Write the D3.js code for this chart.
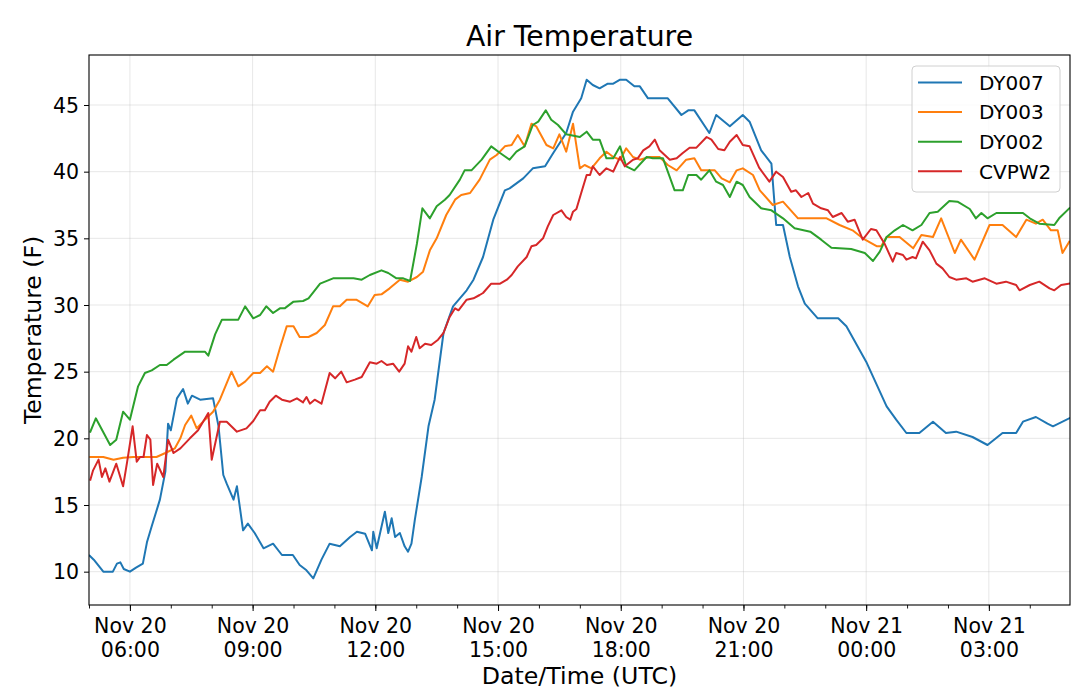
<!DOCTYPE html>
<html>
<head>
<meta charset="utf-8">
<script src="https://cdn.jsdelivr.net/npm/d3@7"></script>
<style>
  html, body { margin: 0; padding: 0; background: #fff; }
  svg { display: block; }
  text { font-family: "DejaVu Sans", sans-serif; fill: #000; }
</style>
</head>
<body>
<svg id="chart" width="1080" height="690"></svg>
<script>
// ---- data (minutes after 2018-11-20 05:00 UTC, temperature in F) ----
const startTime = "2018-11-20T05:00:00Z";
const endTime = "2018-11-21T04:59:00Z";
const seriesNames = ["DY007", "DY003", "DY002", "CVPW2"];
const seriesColors = ["#1f77b4", "#ff7f0e", "#2ca02c", "#d62728"];
const yTickValues = [10, 15, 20, 25, 30, 35, 40, 45];

const dy007Min = [1,7,21,35,41,46,51,60,69,79,85,92,104,112,116,120,129,138,145,151,163,182,190,197,202,212,217,226,233,243,256,270,283,299,309,319,329,341,353,368,383,393,405,415,417,422,427,434,439,444,449,456,463,468,473,478,488,498,507,520,534,554,564,578,593,610,617,637,651,669,681,700,710,722,730,739,749,761,769,779,788,800,808,820,849,869,879,888,910,920,940,959,969,986,1001,1008,1018,1028,1040,1050,1069,1099,1111,1140,1170,1184,1199,1218,1238,1257,1272,1296,1318,1340,1360,1370,1389,1406,1414,1438];
const dy007Temp = [11.2,10.9,10.0,10.0,10.6,10.7,10.2,10.0,10.3,10.6,12.2,13.4,15.4,17.5,21.1,20.6,23.0,23.7,22.6,23.2,22.9,23.0,20.9,17.25,16.6,15.4,16.4,13.1,13.6,12.9,11.75,12.1,11.25,11.25,10.5,10.1,9.5,10.9,12.1,11.9,12.6,13.0,12.85,11.6,13.0,11.75,12.9,14.5,12.9,14.0,12.6,12.9,11.9,11.5,12.1,13.9,17.1,20.9,22.9,27.9,29.9,31.1,31.9,33.6,36.4,38.6,38.75,39.5,40.25,40.4,41.4,42.9,44.5,45.5,46.9,46.5,46.25,46.6,46.6,46.9,46.9,46.4,46.4,45.5,45.5,44.25,44.6,44.6,42.9,44.25,43.4,44.25,43.75,41.6,40.6,36.0,36.0,33.6,31.4,30.1,29.0,29.0,28.4,25.75,22.4,21.4,20.4,20.4,21.25,20.4,20.5,20.1,19.5,20.4,20.4,21.25,21.6,21.1,20.9,21.5];

const dy003Min = [2,21,36,50,65,99,112,126,134,141,150,158,170,182,192,209,219,229,241,251,261,270,280,290,300,309,322,334,346,358,368,378,392,409,419,429,441,456,468,481,490,500,510,524,537,546,559,573,588,598,610,620,629,639,649,656,671,681,690,700,710,720,727,737,749,759,769,779,788,798,808,822,837,849,862,876,888,898,918,928,940,950,959,974,984,1003,1018,1040,1082,1101,1120,1135,1156,1162,1170,1189,1209,1221,1238,1250,1270,1279,1299,1321,1340,1360,1375,1389,1399,1411,1421,1428,1438];
const dy003Temp = [18.6,18.6,18.4,18.55,18.6,18.6,18.9,19.25,20.0,21.0,21.7,20.75,21.4,22.0,22.9,25.0,23.9,24.25,24.9,24.9,25.4,25.0,26.75,28.4,28.4,27.6,27.6,27.9,28.5,29.9,29.9,30.4,30.4,29.9,30.75,30.8,31.25,31.9,31.75,32.1,32.5,34.1,35.0,36.75,37.9,38.25,38.4,39.4,40.9,41.25,41.9,42.0,42.75,41.9,43.6,43.4,42.0,41.75,42.8,41.5,43.6,40.25,40.5,40.25,41.0,41.5,41.1,40.9,41.75,41.1,40.9,41.1,41.1,40.5,40.1,40.9,41.0,40.1,40.1,39.5,39.2,40.1,40.25,39.75,38.6,37.5,37.75,36.5,36.5,36.0,35.6,35.0,34.4,34.4,35.1,35.1,34.25,35.25,35.1,36.5,33.9,34.9,33.4,36.0,36.0,35.1,36.4,36.1,36.4,35.6,35.6,33.9,34.75];

const dy002Min = [2,10,31,40,50,60,72,82,92,104,114,124,141,170,175,185,195,219,229,241,251,260,270,280,287,300,314,322,339,358,388,400,412,429,439,451,461,471,481,489,500,510,522,529,544,551,561,576,590,603,617,627,639,651,659,670,678,688,700,720,730,739,749,759,769,779,788,800,818,827,842,859,871,879,891,898,910,920,930,940,950,959,969,986,1001,1018,1035,1058,1074,1089,1118,1138,1150,1160,1170,1182,1194,1208,1221,1233,1245,1262,1274,1292,1301,1309,1318,1331,1370,1380,1394,1416,1423,1438];
const dy002Temp = [20.5,21.5,19.5,19.9,22.0,21.4,23.9,24.9,25.1,25.5,25.5,25.9,26.5,26.5,26.2,27.8,28.9,28.9,29.9,29.0,29.25,29.9,29.4,29.75,29.75,30.25,30.3,30.5,31.6,32.0,32.0,31.9,32.25,32.6,32.4,32.0,32.0,31.8,34.6,37.25,36.5,37.4,37.9,38.25,39.4,40.1,40.1,40.9,41.9,41.4,40.9,41.5,41.9,43.5,43.75,44.6,43.9,43.5,42.8,42.6,43.0,42.4,42.4,41.0,41.0,41.9,40.4,40.1,41.1,41.0,41.0,38.6,38.6,39.75,39.75,39.4,40.1,39.25,39.0,38.1,39.25,39.0,38.1,37.25,37.1,36.5,35.75,35.5,34.9,34.3,34.2,33.9,33.3,34.0,35.1,35.6,36.0,35.6,36.0,36.9,37.0,37.8,37.75,37.2,36.5,36.9,36.5,36.9,36.9,36.5,36.1,36.0,36.5,37.25];

const cvpw2Min = [2,6,14,19,24,30,40,50,56,64,70,75,80,85,90,94,100,109,116,124,134,148,160,175,180,192,202,217,231,241,251,258,265,274,283,295,305,314,319,324,331,341,353,361,370,378,390,400,412,422,429,437,446,455,463,468,473,480,485,493,502,512,520,529,537,542,554,564,573,578,590,603,613,620,629,642,649,656,666,673,681,693,700,706,710,715,722,730,735,739,749,759,769,779,786,798,805,813,822,830,837,852,862,871,881,891,906,913,923,932,940,950,959,969,983,998,1008,1018,1030,1037,1045,1055,1062,1074,1084,1091,1104,1113,1123,1135,1147,1155,1167,1179,1184,1194,1199,1208,1213,1223,1233,1243,1252,1262,1272,1287,1296,1314,1331,1345,1360,1365,1380,1394,1409,1416,1426,1438];
const cvpw2Temp = [16.9,17.6,18.4,17.1,17.75,16.75,18.1,16.4,18.25,20.9,18.25,18.6,18.6,20.25,19.9,16.5,18.1,17.1,19.9,18.9,19.25,20.0,20.6,21.9,18.4,21.25,21.25,20.5,20.75,21.3,22.1,22.1,22.75,23.2,22.9,22.75,23.0,22.7,23.1,22.6,22.9,22.6,24.9,24.5,25.0,24.2,24.4,24.6,25.7,25.6,25.8,25.5,25.6,25.0,25.6,26.9,26.5,27.6,26.75,27.1,27.0,27.4,27.9,29.1,29.75,29.6,30.4,30.5,30.75,30.9,31.6,31.6,31.9,32.25,32.9,33.6,34.4,34.5,35.0,35.9,36.75,37.1,36.6,36.4,37.0,37.2,38.4,39.75,39.75,40.4,39.75,40.25,40.0,41.1,40.4,40.9,41.0,41.6,41.9,42.4,41.6,40.9,41.0,41.4,41.8,41.8,42.6,42.4,41.7,41.6,42.25,42.75,42.0,41.9,40.3,39.25,40.0,39.6,38.5,38.6,38.1,38.4,37.6,37.25,37.1,36.6,36.9,36.25,36.4,34.9,35.7,35.6,34.6,33.25,33.9,33.75,33.4,33.6,33.5,34.75,34.1,33.1,32.75,32.1,31.9,32.0,31.75,32.0,31.6,31.75,31.5,31.1,31.5,31.75,31.25,31.1,31.5,31.6];

const seriesMinutes = [dy007Min, dy003Min, dy002Min, cvpw2Min];
const seriesTemps = [dy007Temp, dy003Temp, dy002Temp, cvpw2Temp];

// ---- layout ----
const svg = d3.select("#chart");
const W = 1080, H = 690;
const m = { left: 89, right: 10, top: 55, bottom: 85 };
const iw = W - m.left - m.right, ih = H - m.top - m.bottom;

const t0 = new Date(startTime);
const x = d3.scaleUtc().domain([t0, new Date(endTime)]).range([m.left, m.left + iw]);
const y = d3.scaleLinear().domain([7.5, 48.75]).range([m.top + ih, m.top]);

const majorTicks = d3.utcHour.every(3).range(new Date(Date.parse(startTime) + 3600e3), new Date(endTime));
const minorTicks = d3.utcHour.every(1).range(t0, new Date(Date.parse(endTime) + 1));

// grid
const grid = svg.append("g");
grid.selectAll("line.vx").data(majorTicks).join("line")
  .attr("x1", d => x(d)).attr("x2", d => x(d))
  .attr("y1", m.top).attr("y2", m.top + ih)
  .attr("stroke", "#b0b0b0").attr("stroke-opacity", 0.3).attr("stroke-width", 1);
grid.selectAll("line.hy").data(yTickValues).join("line")
  .attr("x1", m.left).attr("x2", m.left + iw)
  .attr("y1", d => y(d)).attr("y2", d => y(d))
  .attr("stroke", "#b0b0b0").attr("stroke-opacity", 0.3).attr("stroke-width", 1);

// clip
svg.append("clipPath").attr("id", "clip").append("rect")
  .attr("x", m.left).attr("y", m.top).attr("width", iw).attr("height", ih);

// lines
const line = d3.line().x(d => x(d[0])).y(d => y(d[1]));
const linesG = svg.append("g").attr("clip-path", "url(#clip)");
seriesNames.forEach((name, i) => {
  const pts = seriesMinutes[i].map((mn, k) => [new Date(t0.getTime() + mn * 60000), seriesTemps[i][k]]);
  linesG.append("path").datum(pts)
    .attr("d", line)
    .attr("fill", "none")
    .attr("stroke", seriesColors[i])
    .attr("stroke-width", 2)
    .attr("stroke-linejoin", "round")
    .attr("stroke-linecap", "square");
});

// axes
const fmtDay = d3.utcFormat("%b %d");
const fmtTime = d3.utcFormat("%H:%M");

const xAxisMinor = d3.axisBottom(x).tickValues(minorTicks).tickSize(3.5).tickFormat("");
const gxm = svg.append("g").attr("transform", `translate(0,${m.top + ih})`).call(xAxisMinor);
gxm.select(".domain").remove();
gxm.selectAll("line").attr("stroke", "#000").attr("stroke-width", 0.9);

const xAxis = d3.axisBottom(x).tickValues(majorTicks).tickSize(6).tickPadding(5).tickFormat("");
const gx = svg.append("g").attr("transform", `translate(0,${m.top + ih})`).call(xAxis);
gx.select(".domain").remove();
gx.selectAll("line").attr("stroke", "#000").attr("stroke-width", 1);
gx.selectAll(".tick").each(function(d) {
  const t = d3.select(this).append("text")
    .attr("text-anchor", "middle")
    .style("font-size", "20.5px")
    .style("font-family", "'DejaVu Sans', sans-serif")
    .attr("fill", "#000");
  t.append("tspan").attr("x", 0).attr("y", 27.5).text(fmtDay(d));
  t.append("tspan").attr("x", 0).attr("y", 51.5).text(fmtTime(d));
});

const yAxis = d3.axisLeft(y).tickValues(yTickValues).tickSize(5).tickPadding(5).tickFormat(d3.format("d"));
const gy = svg.append("g").attr("transform", `translate(${m.left},0)`).call(yAxis);
gy.select(".domain").remove();
gy.selectAll("line").attr("stroke", "#000").attr("stroke-width", 1);
gy.selectAll("text")
  .style("font-size", "20.5px")
  .style("font-family", "'DejaVu Sans', sans-serif")
  .attr("fill", "#000").attr("dy", "0.35em");

// spines
svg.append("rect")
  .attr("x", m.left).attr("y", m.top).attr("width", iw).attr("height", ih)
  .attr("fill", "none").attr("stroke", "#000").attr("stroke-width", 1.1);

// title and labels
svg.append("text").attr("x", m.left + iw / 2).attr("y", 46)
  .attr("text-anchor", "middle").style("font-size", "28.3px").text("Air Temperature");
svg.append("text").attr("x", m.left + iw / 2).attr("y", 684)
  .attr("text-anchor", "middle").style("font-size", "23.7px").text("Date/Time (UTC)");
svg.append("text")
  .attr("transform", `translate(41,${m.top + ih / 2}) rotate(-90)`)
  .attr("text-anchor", "middle").style("font-size", "23.5px").text("Temperature (F)");

// legend
const lg = svg.append("g");
lg.append("rect").attr("x", 912).attr("y", 66).attr("width", 148).attr("height", 126)
  .attr("rx", 4).attr("fill", "#fff").attr("fill-opacity", 0.8)
  .attr("stroke", "#d0d0d0").attr("stroke-width", 1);
seriesNames.forEach((name, i) => {
  const cy = 82.5 + i * 29.6;
  lg.append("line").attr("x1", 918).attr("x2", 962).attr("y1", cy).attr("y2", cy)
    .attr("stroke", seriesColors[i]).attr("stroke-width", 2);
  lg.append("text").attr("x", 979).attr("y", cy).attr("dy", "0.36em")
    .style("font-size", "20px").text(name);
});
</script>
</body>
</html>
